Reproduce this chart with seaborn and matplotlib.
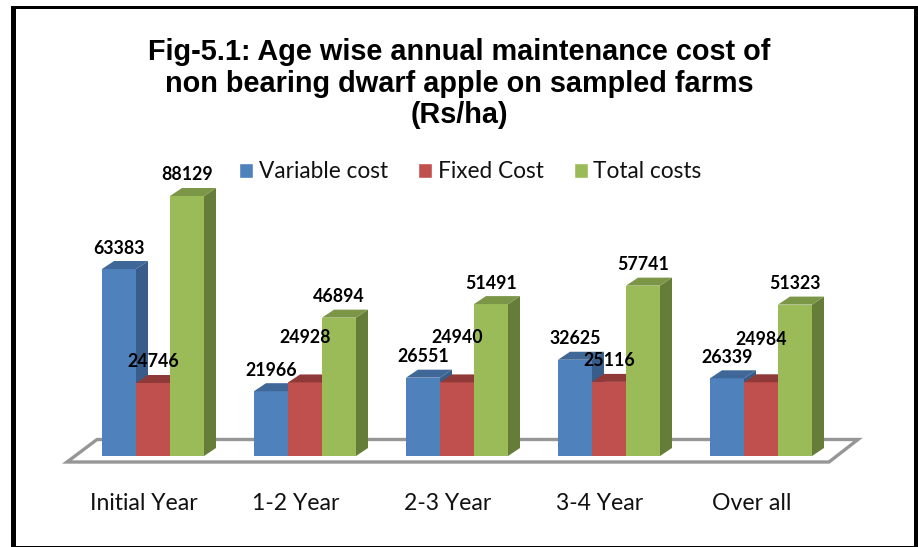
import matplotlib
matplotlib.use("Agg")
import matplotlib.pyplot as plt
from matplotlib.patches import Polygon, Rectangle
from matplotlib.transforms import Affine2D, ScaledTranslation
import pandas as pd
import seaborn as sns

categories = ["Initial Year", "1-2 Year", "2-3 Year", "3-4 Year", "Over all"]
variable_cost = [63383, 21966, 26551, 32625, 26339]
fixed_cost = [24746, 24928, 24940, 25116, 24984]
total_costs = [88129, 46894, 51491, 57741, 51323]
series_names = ["Variable cost", "Fixed Cost", "Total costs"]
title = "Fig-5.1: Age wise annual maintenance cost of\nnon bearing dwarf apple on sampled farms\n(Rs/ha)"

front = ["#4F81BD", "#C0504D", "#9BBB59"]
side = ["#385D8A", "#8A3A38", "#667D3A"]
top = ["#3F6797", "#8F3A38", "#7C9648"]

W, H = 918, 547
BASE_PX, GROUP_PX, BAR_PX = 456, 152, 34
DX_PX, DY_PX = 12, 8
PX_PER_UNIT = 260 / 88129

df = pd.DataFrame({
    "cat": categories * 3,
    "series": [s for s in series_names for _ in categories],
    "value": variable_cost + fixed_cost + total_costs,
})

sns.set_theme(style="white")
plt.rcParams["font.family"] = ["Lato", "DejaVu Sans"]
fig = plt.figure(figsize=(W / 100, H / 100), dpi=100, facecolor="white")
ax = fig.add_axes([0, 1 - BASE_PX / H, 1, BASE_PX / H])
ax.patch.set_alpha(0)

sns.barplot(data=df, x="cat", y="value", hue="series", hue_order=series_names,
            palette=front, width=BAR_PX * 3 / GROUP_PX, gap=0, saturation=1,
            errorbar=None, ax=ax, legend=False, zorder=5)
c0 = 153 / GROUP_PX
ax.set_xlim(-c0, W / GROUP_PX - c0)
ax.set_ylim(0, BASE_PX / PX_PER_UNIT)
ax.set_xlabel("")
ax.set_ylabel("")
ax.set_yticks([])
sns.despine(ax=ax, left=True, bottom=True)
ax.tick_params(axis="x", length=0, pad=27, labelsize=16.6, labelcolor="#111111")
shift = ScaledTranslation(-9 / 100, 0, fig.dpi_scale_trans)
for lab in ax.get_xticklabels():
    lab.set_transform(lab.get_transform() + shift)

# pixel-space helper for the chart furniture
px = Affine2D().scale(1, -1).translate(0, H)

# floor of the pseudo-3D plot
fig.add_artist(Polygon([(67, 462), (97, 439.5), (858, 439.5), (829, 462)], closed=True,
                       facecolor="white", edgecolor="#969696", linewidth=2.4,
                       transform=px, zorder=-1))

# extrude each bar; drawn left to right so nearer bars hide the sides behind them
dx = DX_PX / GROUP_PX
dy = DY_PX / PX_PER_UNIT
raised = {(1, 1): 24, (1, 2): 24, (1, 4): 22}
for s, cont in enumerate(ax.containers):
    for c, bar in enumerate(cont):
        x, w, h = bar.get_x(), bar.get_width(), bar.get_height()
        z = 5 + c * 3 + s
        bar.set_zorder(z)
        bar.set_linewidth(0)
        ax.add_patch(Polygon([(x + w, 0), (x + w + dx, dy), (x + w + dx, h + dy), (x + w, h)],
                             closed=True, facecolor=side[s], edgecolor="none", zorder=z))
        ax.add_patch(Polygon([(x, h), (x + dx, h + dy), (x + w + dx, h + dy), (x + w, h)],
                             closed=True, facecolor=top[s], edgecolor="none", zorder=z))
        extra = raised.get((s, c), 0)
        ax.annotate(f"{int(h)}", xy=(x + w / 2, h), xytext=(0, (12.5 + extra) * 0.72),
                    textcoords="offset points", ha="center", va="bottom",
                    fontsize=12.8, fontweight="bold", color="black", zorder=50)

handles = [Rectangle((0, 0), 1, 1, facecolor=col) for col in front]
fig.legend(handles, series_names, loc="center left", bbox_to_anchor=(239 / W, 1 - 172 / H),
           ncol=3, frameon=False, fontsize=16.3, handlelength=0.62, handleheight=0.62,
           handletextpad=0.25, columnspacing=1.33, labelcolor="#111111", borderpad=0, borderaxespad=0)

fig.text(459 / W, 1 - 83.5 / H, title, ha="center", va="center", family="Liberation Sans",
         fontweight="bold", fontsize=20.8, linespacing=1.17, color="black")

# frame: heavy left, top and right edges, thin bottom edge
for rect in [(10.5, 6, 5.2, 541), (10.5, 6, 907.5, 3), (913.5, 6, 4.5, 541), (10.5, 545.5, 907.5, 1.5)]:
    fig.add_artist(Rectangle(rect[:2], rect[2], rect[3], facecolor="black", edgecolor="none",
                             transform=px, zorder=100))

fig.savefig("out.png", dpi=100)
